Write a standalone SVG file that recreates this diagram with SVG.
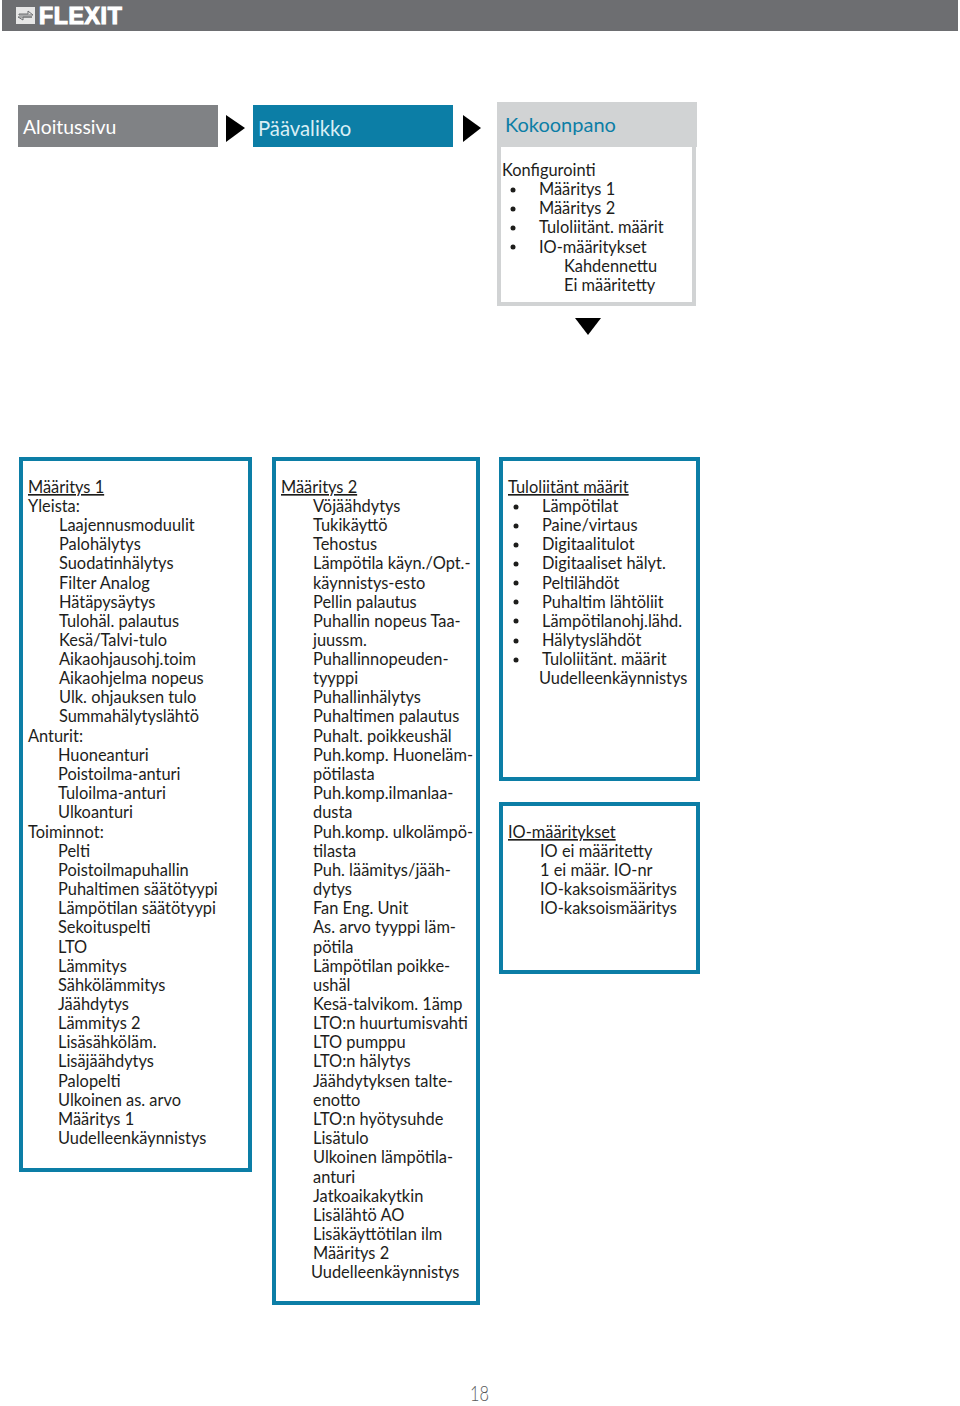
<svg xmlns="http://www.w3.org/2000/svg" width="960" height="1406" viewBox="0 0 960 1406">
<style>
text{font-family:Lato,"Noto Sans","Liberation Sans",sans-serif;font-size:16.4px;fill:#1d1d1b}
.box{fill:#fff;stroke:#0c7ea6;stroke-width:4}
.u{text-decoration:underline;text-decoration-color:#77787b}
.arrow{fill:#000}
.b{fill:#1d1d1b}
</style>
<rect width="960" height="1406" fill="#fff"/>
<g id="header">
<rect x="2" y="0" width="956" height="31" fill="#6d6e71"/>
<rect x="16" y="7" width="19" height="17" fill="#e6e6e6"/>
<path d="M19 14h9v-3l5 4h-14zM32 17h-9v3l-5-3h14z" fill="#e6e6e6" stroke="#6d6e71" stroke-width="1"/>
<text x="39" y="24" style="font-family:'Liberation Sans',sans-serif;font-size:23px;font-weight:700;fill:#fff;stroke:#fff;stroke-width:1.2;letter-spacing:.7px">FLEXIT</text>
</g>
<g id="aloitussivu">
<rect x="18" y="105" width="200" height="42" fill="#808285"/>
<text x="23" y="134" style="fill:#fff;font-size:19.4px">Aloitussivu</text>
</g>
<g id="paavalikko">
<rect x="253" y="105" width="200" height="42" fill="#0c7ea6"/>
<text x="258" y="136" style="fill:#d9eef5;font-size:20.3px">Päävalikko</text>
</g>
<g id="kokoonpano">
<rect x="499" y="104" width="195" height="200" fill="#fff" stroke="#d1d3d4" stroke-width="4"/>
<rect x="497" y="102" width="200" height="45" fill="#d1d3d4"/>
<text x="505" y="132" style="fill:#0c7ea6;font-size:20px">Kokoonpano</text>
<text x="502" y="176">Konfigurointi</text>
<circle class="b" cx="513" cy="190" r="2.5"/><text x="539" y="195">Määritys 1</text>
<circle class="b" cx="513" cy="209" r="2.5"/><text x="539" y="214">Määritys 2</text>
<circle class="b" cx="513" cy="228" r="2.5"/><text x="539" y="233">Tuloliitänt. määrit</text>
<circle class="b" cx="513" cy="247" r="2.5"/><text x="539" y="253">IO-määritykset</text>
<text x="564" y="272">Kahdennettu</text>
<text x="564" y="291">Ei määritetty</text>
</g>
<g id="connectors">
<path class="arrow" d="M226 115l19 13-19 14z"/>
<path class="arrow" d="M463 115l18 13-18 14z"/>
<path class="arrow" d="M575 318h26l-13 17z"/>
</g>
<g id="maaritys1">
<rect class="box" x="21" y="459" width="229" height="711"/>
<text class="u" x="28" y="493">Määritys 1</text>
<text x="28" y="512">Yleista:</text>
<text x="59" y="531">Laajennusmoduulit</text>
<text x="59" y="550">Palohälytys</text>
<text x="59" y="569">Suodatinhälytys</text>
<text x="59" y="589">Filter Analog</text>
<text x="59" y="608">Hätäpysäytys</text>
<text x="59" y="627">Tulohäl. palautus</text>
<text x="59" y="646">Kesä/Talvi-tulo</text>
<text x="59" y="665">Aikaohjausohj.toim</text>
<text x="59" y="684">Aikaohjelma nopeus</text>
<text x="59" y="703">Ulk. ohjauksen tulo</text>
<text x="59" y="722">Summahälytyslähtö</text>
<text x="28" y="742">Anturit:</text>
<text x="58" y="761">Huoneanturi</text>
<text x="58" y="780">Poistoilma-anturi</text>
<text x="58" y="799">Tuloilma-anturi</text>
<text x="58" y="818">Ulkoanturi</text>
<text x="28" y="838">Toiminnot:</text>
<text x="58" y="857">Pelti</text>
<text x="58" y="876">Poistoilmapuhallin</text>
<text x="58" y="895">Puhaltimen säätötyypi</text>
<text x="58" y="914">Lämpötilan säätötyypi</text>
<text x="58" y="933">Sekoituspelti</text>
<text x="58" y="953">LTO</text>
<text x="58" y="972">Lämmitys</text>
<text x="58" y="991">Sähkölämmitys</text>
<text x="58" y="1010">Jäähdytys</text>
<text x="58" y="1029">Lämmitys 2</text>
<text x="58" y="1048">Lisäsähköläm.</text>
<text x="58" y="1067">Lisäjäähdytys</text>
<text x="58" y="1087">Palopelti</text>
<text x="58" y="1106">Ulkoinen as. arvo</text>
<text x="58" y="1125">Määritys 1</text>
<text x="58" y="1144">Uudelleenkäynnistys</text>
</g>
<g id="maaritys2">
<rect class="box" x="274" y="459" width="204" height="844"/>
<text class="u" x="281" y="493">Määritys 2</text>
<text x="313" y="512">Vöjäähdytys</text>
<text x="313" y="531">Tukikäyttö</text>
<text x="313" y="550">Tehostus</text>
<text x="313" y="569">Lämpötila käyn./Opt.-</text>
<text x="313" y="589">käynnistys-esto</text>
<text x="313" y="608">Pellin palautus</text>
<text x="313" y="627">Puhallin nopeus Taa-</text>
<text x="313" y="646">juussm.</text>
<text x="313" y="665">Puhallinnopeuden-</text>
<text x="313" y="684">tyyppi</text>
<text x="313" y="703">Puhallinhälytys</text>
<text x="313" y="722">Puhaltimen palautus</text>
<text x="313" y="742">Puhalt. poikkeushäl</text>
<text x="313" y="761">Puh.komp. Huoneläm-</text>
<text x="313" y="780">pötilasta</text>
<text x="313" y="799">Puh.komp.ilmanlaa-</text>
<text x="313" y="818">dusta</text>
<text x="313" y="838">Puh.komp. ulkolämpö-</text>
<text x="313" y="857">tilasta</text>
<text x="313" y="876">Puh. läämitys/jääh-</text>
<text x="313" y="895">dytys</text>
<text x="313" y="914">Fan Eng. Unit</text>
<text x="313" y="933">As. arvo tyyppi läm-</text>
<text x="313" y="953">pötila</text>
<text x="313" y="972">Lämpötilan poikke-</text>
<text x="313" y="991">ushäl</text>
<text x="313" y="1010">Kesä-talvikom. 1ämp</text>
<text x="313" y="1029">LTO:n huurtumisvahti</text>
<text x="313" y="1048">LTO pumppu</text>
<text x="313" y="1067">LTO:n hälytys</text>
<text x="313" y="1087">Jäähdytyksen talte-</text>
<text x="313" y="1106">enotto</text>
<text x="313" y="1125">LTO:n hyötysuhde</text>
<text x="313" y="1144">Lisätulo</text>
<text x="313" y="1163">Ulkoinen lämpötila-</text>
<text x="313" y="1183">anturi</text>
<text x="313" y="1202">Jatkoaikakytkin</text>
<text x="313" y="1221">Lisälähtö AO</text>
<text x="313" y="1240">Lisäkäyttötilan ilm</text>
<text x="313" y="1259">Määritys 2</text>
<text x="311" y="1278">Uudelleenkäynnistys</text>
</g>
<g id="tuloliitant">
<rect class="box" x="501" y="459" width="197" height="320"/>
<text class="u" x="508" y="493">Tuloliitänt määrit</text>
<circle class="b" cx="516" cy="507" r="2.5"/><text x="542" y="512">Lämpötilat</text>
<circle class="b" cx="516" cy="526" r="2.5"/><text x="542" y="531">Paine/virtaus</text>
<circle class="b" cx="516" cy="545" r="2.5"/><text x="542" y="550">Digitaalitulot</text>
<circle class="b" cx="516" cy="564" r="2.5"/><text x="542" y="569">Digitaaliset hälyt.</text>
<circle class="b" cx="516" cy="583" r="2.5"/><text x="542" y="589">Peltilähdöt</text>
<circle class="b" cx="516" cy="602" r="2.5"/><text x="542" y="608">Puhaltim lähtöliit</text>
<circle class="b" cx="516" cy="621" r="2.5"/><text x="542" y="627">Lämpötilanohj.lähd.</text>
<circle class="b" cx="516" cy="641" r="2.5"/><text x="542" y="646">Hälytyslähdöt</text>
<circle class="b" cx="516" cy="660" r="2.5"/><text x="542" y="665">Tuloliitänt. määrit</text>
<text x="539" y="684">Uudelleenkäynnistys</text>
</g>
<g id="io-maaritykset">
<rect class="box" x="501" y="804" width="197" height="168"/>
<text class="u" x="508" y="838">IO-määritykset</text>
<text x="540" y="857">IO ei määritetty</text>
<text x="540" y="876">1 ei määr. IO-nr</text>
<text x="540" y="895">IO-kaksoismääritys</text>
<text x="540" y="914">IO-kaksoismääritys</text>
</g>
<text id="page-number" x="470" y="1401" textLength="19" lengthAdjust="spacingAndGlyphs" style="font-size:21px;font-weight:300;fill:#58595b">18</text>
</svg>
